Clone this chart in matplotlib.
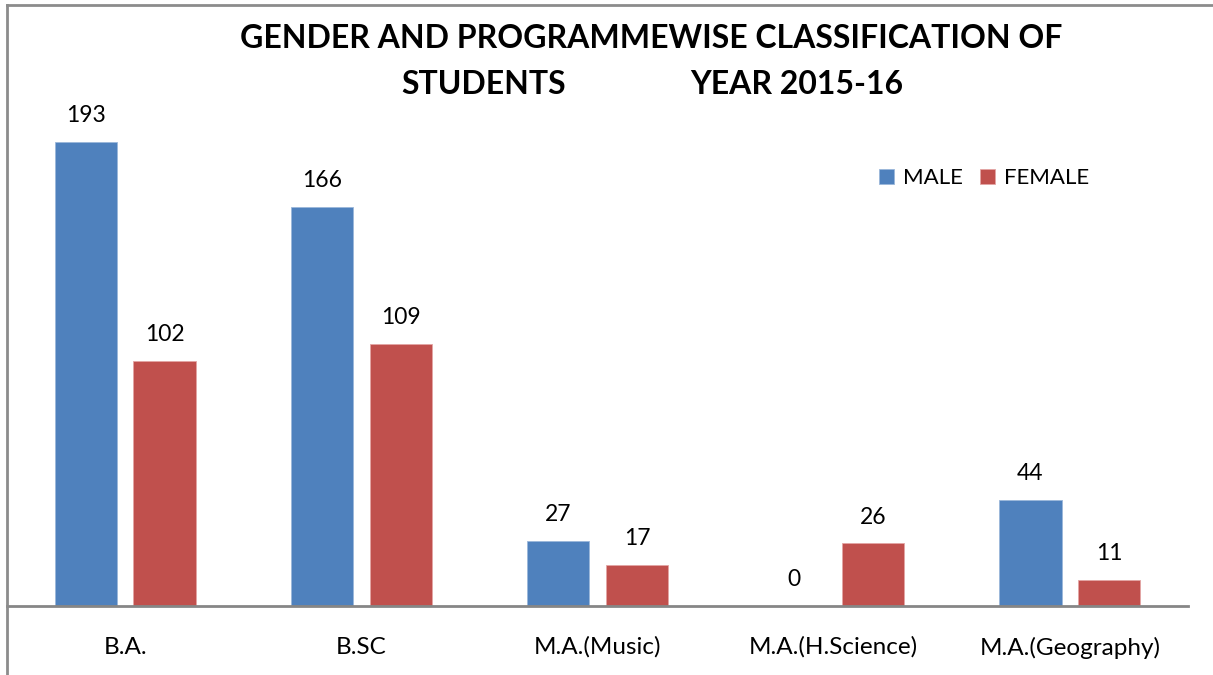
import matplotlib
matplotlib.use("Agg")
import matplotlib.pyplot as plt
import numpy as np
from matplotlib.lines import Line2D

categories = ["B.A.", "B.SC", "M.A.(Music)", "M.A.(H.Science)", "M.A.(Geography)"]
male = [193, 166, 27, 0, 44]
female = [102, 109, 17, 26, 11]
series_names = ["MALE", "FEMALE"]
title_line1 = "GENDER AND PROGRAMMEWISE CLASSIFICATION OF"
title_line2a = "STUDENTS"
title_line2b = "YEAR 2015-16"

BLUE = "#4F81BD"
RED = "#C0504D"
FONT = "Lato"

W, H = 1213, 675
fig = plt.figure(figsize=(W / 100, H / 100), dpi=100)

def fx(px):
    return px / W

def fy(py):
    return 1 - py / H

# axes: left 7, right 1188, baseline 606, top 5 (for ylim 0..250)
ax = fig.add_axes([fx(7), fy(606), fx(1188 - 7), (606 - 5) / H])
ax.set_xlim(0, len(categories))
ax.set_ylim(0, 250)
x = np.arange(len(categories)) + 0.5
bw = 0.263
off = 0.167
b1 = ax.bar(x - off, male, bw, color=BLUE, edgecolor="#9BB7DA", linewidth=0.6)
b2 = ax.bar(x + off, female, bw, color=RED, edgecolor="#E3A5A4", linewidth=0.6)

for bars, vals in ((b1, male), (b2, female)):
    for rect, v in zip(bars, vals):
        ax.annotate(str(v), (rect.get_x() + rect.get_width() / 2, v),
                    xytext=(0, 19), textcoords="offset points",
                    ha="center", va="center", fontsize=16.5, family=FONT, color="black")

for s in ["top", "right", "left"]:
    ax.spines[s].set_visible(False)
ax.spines["bottom"].set_color("#868686")
ax.spines["bottom"].set_linewidth(2)
ax.set_yticks([])
ax.set_xticks(x)
ax.set_xticklabels(categories, fontsize=17.5, family=FONT)
ax.tick_params(axis="x", length=0, pad=22)
ax.patch.set_alpha(0)

# outer chart border (top and left visible)
fig.add_artist(Line2D([fx(7), fx(7)], [fy(5), 0], color="#8C8C8C", lw=2, transform=fig.transFigure))
fig.add_artist(Line2D([fx(7), 1], [fy(5), fy(5)], color="#8C8C8C", lw=2, transform=fig.transFigure))

# title
fig.text(fx(651), fy(39), title_line1, ha="center", va="center", fontsize=23,
         fontweight="bold", family=FONT)
fig.text(fx(401), fy(84), title_line2a, ha="left", va="center", fontsize=23,
         fontweight="bold", family=FONT)
fig.text(fx(690), fy(84), title_line2b, ha="left", va="center", fontsize=23,
         fontweight="bold", family=FONT)

# legend
leg = ax.legend([b1, b2], series_names, loc="center", bbox_to_anchor=(fx(984), fy(178)),
                bbox_transform=fig.transFigure, ncol=2, frameon=False,
                prop={"family": FONT, "size": 16}, handlelength=0.65, handleheight=0.65,
                handletextpad=0.4, columnspacing=0.8)

fig.savefig("out.png", dpi=100)
